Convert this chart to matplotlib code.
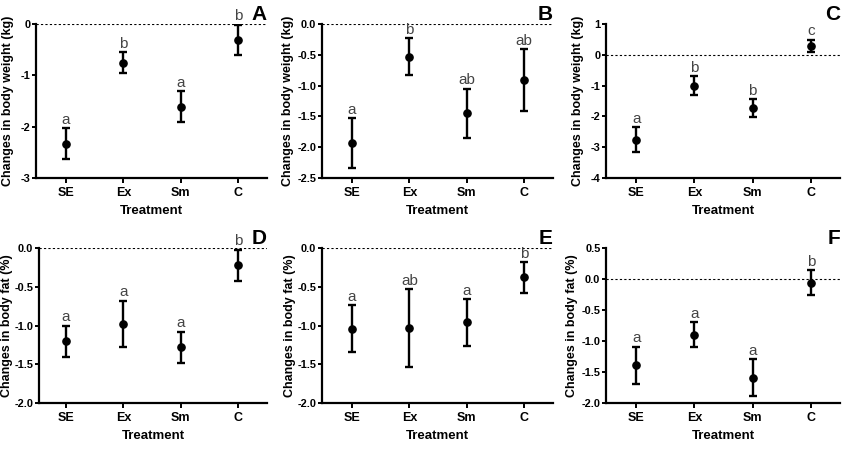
import matplotlib
matplotlib.use("Agg")
import matplotlib.pyplot as plt

plt.rcParams['font.family'] = ['Liberation Sans', 'DejaVu Sans']

categories = ["SE", "Ex", "Sm", "C"]

# Panel A: body weight (kg)
a_mean = [-2.33, -0.75, -1.61, -0.31]
a_err = [0.30, 0.20, 0.30, 0.30]
a_sig = ["a", "b", "a", "b"]
# Panel B: body weight (kg)
b_mean = [-1.93, -0.53, -1.45, -0.91]
b_err = [0.40, 0.30, 0.40, 0.50]
b_sig = ["a", "b", "ab", "ab"]
# Panel C: body weight (kg)
c_mean = [-2.76, -1.00, -1.74, 0.29]
c_err = [0.40, 0.30, 0.29, 0.20]
c_sig = ["a", "b", "b", "c"]
# Panel D: body fat (%)
d_mean = [-1.20, -0.98, -1.28, -0.22]
d_err = [0.20, 0.30, 0.20, 0.20]
d_sig = ["a", "a", "a", "b"]
# Panel E: body fat (%)
e_mean = [-1.04, -1.03, -0.96, -0.38]
e_err = [0.30, 0.50, 0.30, 0.20]
e_sig = ["a", "ab", "a", "b"]
# Panel F: body fat (%)
f_mean = [-1.39, -0.90, -1.59, -0.06]
f_err = [0.30, 0.20, 0.30, 0.20]
f_sig = ["a", "a", "a", "b"]

panels = [
    ("A", a_mean, a_err, a_sig, "Changes in body weight (kg)", (-3, 0), [-3, -2, -1, 0], "{:.0f}"),
    ("B", b_mean, b_err, b_sig, "Changes in body weight (kg)", (-2.5, 0), [-2.5, -2.0, -1.5, -1.0, -0.5, 0.0], "{:.1f}"),
    ("C", c_mean, c_err, c_sig, "Changes in body weight (kg)", (-4, 1), [-4, -3, -2, -1, 0, 1], "{:.0f}"),
    ("D", d_mean, d_err, d_sig, "Changes in body fat (%)", (-2.0, 0), [-2.0, -1.5, -1.0, -0.5, 0.0], "{:.1f}"),
    ("E", e_mean, e_err, e_sig, "Changes in body fat (%)", (-2.0, 0), [-2.0, -1.5, -1.0, -0.5, 0.0], "{:.1f}"),
    ("F", f_mean, f_err, f_sig, "Changes in body fat (%)", (-2.0, 0.5), [-2.0, -1.5, -1.0, -0.5, 0.0, 0.5], "{:.1f}"),
]

W, H = 843, 450
fig = plt.figure(figsize=(W / 100, H / 100), dpi=100)

# per-panel pixel boxes: left, right, top, bottom
lefts = [36, 322, 606, 39, 322, 606]
rights = [267, 553, 840, 267, 553, 840]
tops = [24, 24, 24, 248, 248, 248]
bottoms = [178, 178, 178, 403, 403, 403]
# left x-limit (category units) so categories line up per column
xmins = [-0.52, -0.52, -0.52, -0.47, -0.52, -0.52]
# pixel x-centre of each panel's y-label
ylabel_x = [8, 288, 578, 7, 290, 572]

for i, (letter, mean, err, sig, ylabel, ylim, yticks, fmt) in enumerate(panels):
    l, rr, t, b = lefts[i], rights[i], tops[i], bottoms[i]
    ax = fig.add_axes([l / W, 1 - b / H, (rr - l) / W, (b - t) / H])
    x = list(range(len(categories)))
    ax.axhline(0, color="black", lw=0.8, ls=(0, (2, 2)), zorder=1)
    ax.errorbar(x, mean, yerr=err, fmt="o", color="black", ms=5.2,
                capsize=2.8, elinewidth=1.7, capthick=1.7, zorder=3)
    for xi, m, e, s in zip(x, mean, err, sig):
        ax.annotate(s, (xi, m + e), xytext=(0, 1.0), textcoords="offset points",
                    ha="center", va="bottom", fontsize=11, color="#444444")
    ax.set_xlim(xmins[i], 3.5)
    ax.set_ylim(*ylim)
    ax.set_yticks(yticks)
    ax.set_yticklabels([fmt.format(v) for v in yticks])
    ax.set_xticks(x)
    ax.set_xticklabels(categories)
    for sp in ["top", "right"]:
        ax.spines[sp].set_visible(False)
    for sp in ["left", "bottom"]:
        ax.spines[sp].set_linewidth(1.6)
    ax.tick_params(axis="x", direction="out", length=3.5, width=1.4,
                   labelsize=9, pad=3)
    ax.tick_params(axis="y", direction="out", length=3, width=1.4,
                   labelsize=7.9, pad=1.0)
    for lab in ax.get_xticklabels() + ax.get_yticklabels():
        lab.set_fontweight("bold")
    ax.set_ylabel(ylabel, fontsize=9.0, fontweight="bold")
    ax.yaxis.set_label_coords((ylabel_x[i] - l) / (rr - l), 0.5)
    ax.yaxis.label.set_va("center")
    ax.set_xlabel("Treatment", fontsize=9.5, fontweight="bold", labelpad=4)
    ax.text(1.0, 1.0 + 10 / (b - t), letter, transform=ax.transAxes,
            ha="right", va="center", fontsize=15, fontweight="bold")

fig.savefig("out.png", dpi=100)
